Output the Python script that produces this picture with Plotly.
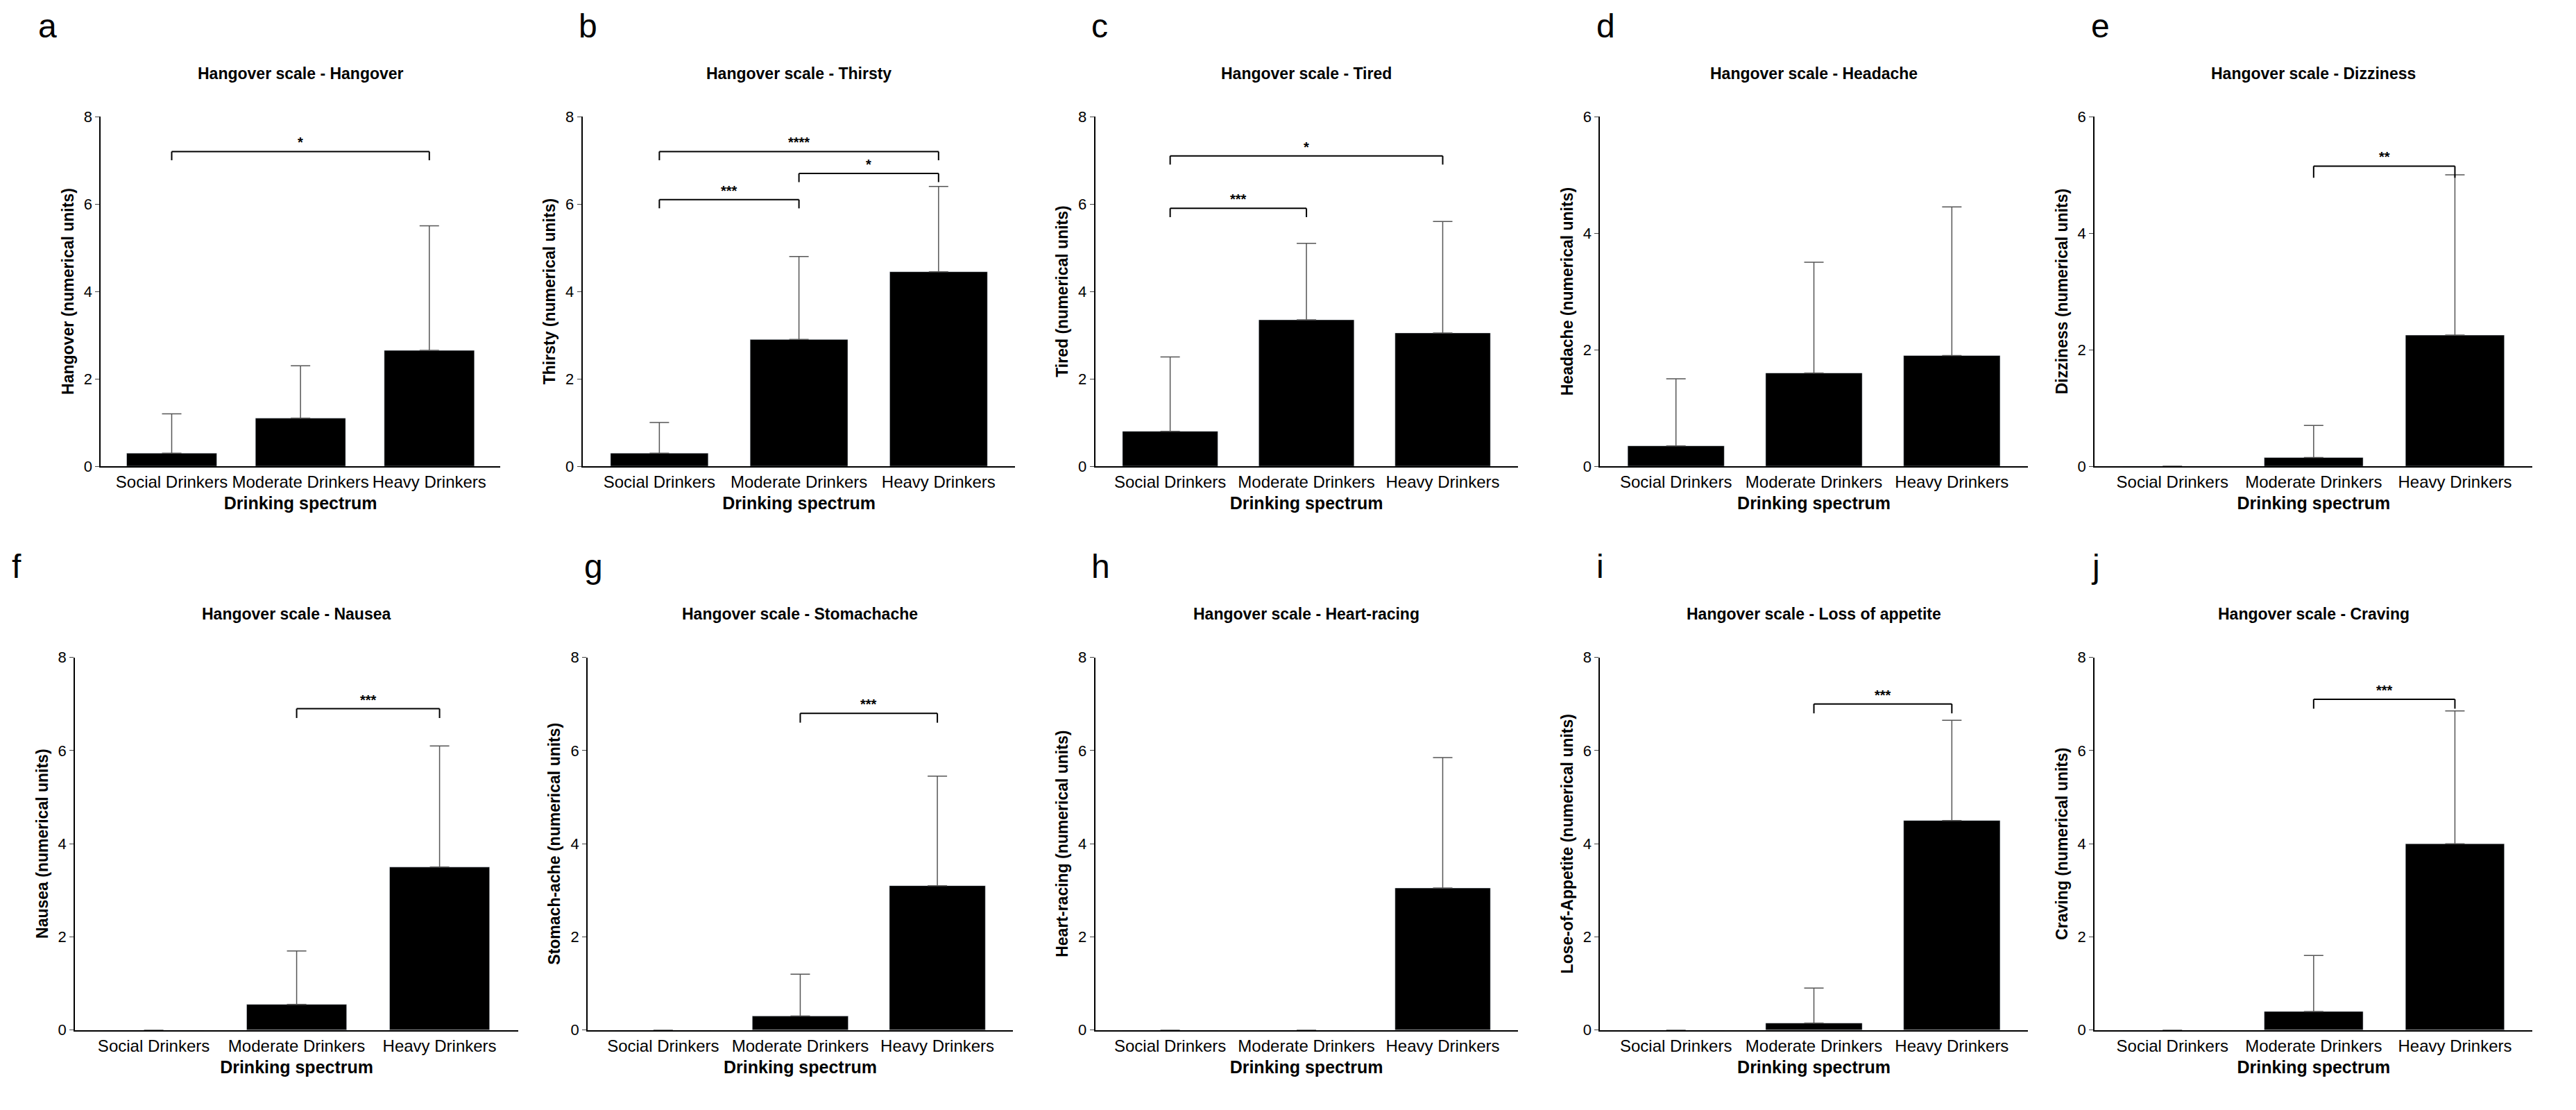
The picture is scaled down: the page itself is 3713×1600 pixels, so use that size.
import plotly.graph_objects as go

groups = ["Social Drinkers", "Moderate Drinkers", "Heavy Drinkers"]
letters = ["a", "b", "c", "d", "e", "f", "g", "h", "i", "j"]
titles = ["Hangover scale - Hangover", "Hangover scale - Thirsty", "Hangover scale - Tired",
          "Hangover scale - Headache", "Hangover scale - Dizziness", "Hangover scale - Nausea",
          "Hangover scale - Stomachache", "Hangover scale - Heart-racing",
          "Hangover scale - Loss of appetite", "Hangover scale - Craving"]
ylabels = ["Hangover (numerical units)", "Thirsty (numerical units)", "Tired (numerical units)",
           "Headache (numerical units)", "Dizziness (numerical units)", "Nausea (numerical units)",
           "Stomach-ache (numerical units)", "Heart-racing (numerical units)",
           "Lose-of-Appetite (numerical units)", "Craving (numerical units)"]
means = [[0.3, 1.1, 2.65], [0.3, 2.9, 4.45], [0.8, 3.35, 3.05], [0.35, 1.6, 1.9],
         [0, 0.15, 2.25], [0, 0.55, 3.5], [0, 0.3, 3.1], [0, 0, 3.05],
         [0, 0.15, 4.5], [0, 0.4, 4.0]]
tops = [[1.2, 2.3, 5.5], [1.0, 4.8, 6.4], [2.5, 5.1, 5.6], [1.5, 3.5, 4.45],
        [0, 0.7, 5.0], [0, 1.7, 6.1], [0, 1.2, 5.45], [0, 0, 5.85],
        [0, 0.9, 6.65], [0, 1.6, 6.85]]
ymax = [8, 8, 8, 6, 6, 8, 8, 8, 8, 8]
# (panel, from, to, y, label)
sig = [(0, 0, 2, 7.2, "*"), (1, 0, 2, 7.2, "****"), (1, 0, 1, 6.1, "***"), (1, 1, 2, 6.7, "*"),
       (2, 0, 2, 7.1, "*"), (2, 0, 1, 5.9, "***"), (4, 1, 2, 5.15, "**"), (5, 1, 2, 6.9, "***"),
       (6, 1, 2, 6.8, "***"), (8, 1, 2, 7.0, "***"), (9, 1, 2, 7.1, "***")]

xdom = [[0.037, 0.192], [0.224, 0.392], [0.423, 0.587], [0.619, 0.785], [0.811, 0.981],
        [0.027, 0.199], [0.226, 0.391], [0.423, 0.587], [0.619, 0.785], [0.811, 0.981]]
ydom = [[0.586, 0.906]] * 5 + [[0.07, 0.411]] * 5

fig = go.Figure()
font = "Liberation Sans, Arial"
for p in range(10):
    n = "" if p == 0 else str(p + 1)
    err = [t - m for t, m in zip(tops[p], means[p])]
    fig.add_trace(go.Bar(x=[0, 1, 2], y=means[p], marker_color="black", width=0.7,
                         error_y=dict(type="data", array=err, arrayminus=[0, 0, 0], symmetric=False,
                                      color="#555", thickness=1.5, width=14),
                         xaxis="x" + n, yaxis="y" + n, showlegend=False))
    fig.update_layout(**{
        "xaxis" + n: dict(domain=xdom[p], anchor="y" + n, range=[-0.55, 2.55],
                          tickvals=[0, 1, 2], ticktext=groups, showline=True, linecolor="black",
                          linewidth=2, ticks="", tickfont=dict(size=24, color="black"),
                          title=dict(text="<b>Drinking spectrum</b>", font=dict(size=25), standoff=10)),
        "yaxis" + n: dict(domain=ydom[p], anchor="x" + n, range=[0, ymax[p]], dtick=2,
                          showline=True, linecolor="black", linewidth=2, ticks="outside",
                          ticklen=6, showgrid=False, zeroline=False,
                          tickfont=dict(size=22, color="black"),
                          title=dict(text="<b>" + ylabels[p] + "</b>", font=dict(size=23), standoff=8)),
    })
    fig.add_annotation(text="<b>" + titles[p] + "</b>", xref="paper", yref="paper",
                       x=sum(xdom[p]) / 2, y=ydom[p][1] + 0.03, showarrow=False,
                       font=dict(size=23), xanchor="center", yanchor="bottom")
    fig.add_annotation(text=letters[p], xref="paper", yref="paper",
                       x=xdom[p][0] - 0.025 if p % 5 == 0 else xdom[p][0] - 0.002,
                       y=ydom[p][1] + 0.065, showarrow=False, font=dict(size=48),
                       xanchor="left", yanchor="bottom")

for p, a, b, y, lab in sig:
    n = "" if p == 0 else str(p + 1)
    xr, yr = "x" + n, "y" + n
    fig.add_shape(type="line", xref=xr, yref=yr, x0=a, x1=b, y0=y, y1=y,
                  line=dict(color="black", width=2))
    for xx in (a, b):
        fig.add_shape(type="line", xref=xr, yref=yr, x0=xx, x1=xx, y0=y, y1=y - 0.2,
                      line=dict(color="black", width=2))
    fig.add_annotation(text="<b>" + lab + "</b>", xref=xr, yref=yr, x=(a + b) / 2, y=y,
                       showarrow=False, xanchor="center", yanchor="bottom", font=dict(size=20))

fig.update_layout(width=3713, height=1600, plot_bgcolor="white", paper_bgcolor="white",
                  margin=dict(l=0, r=0, t=0, b=0), bargap=0.3,
                  font=dict(family=font, color="black"))
fig.write_html("out.html")
